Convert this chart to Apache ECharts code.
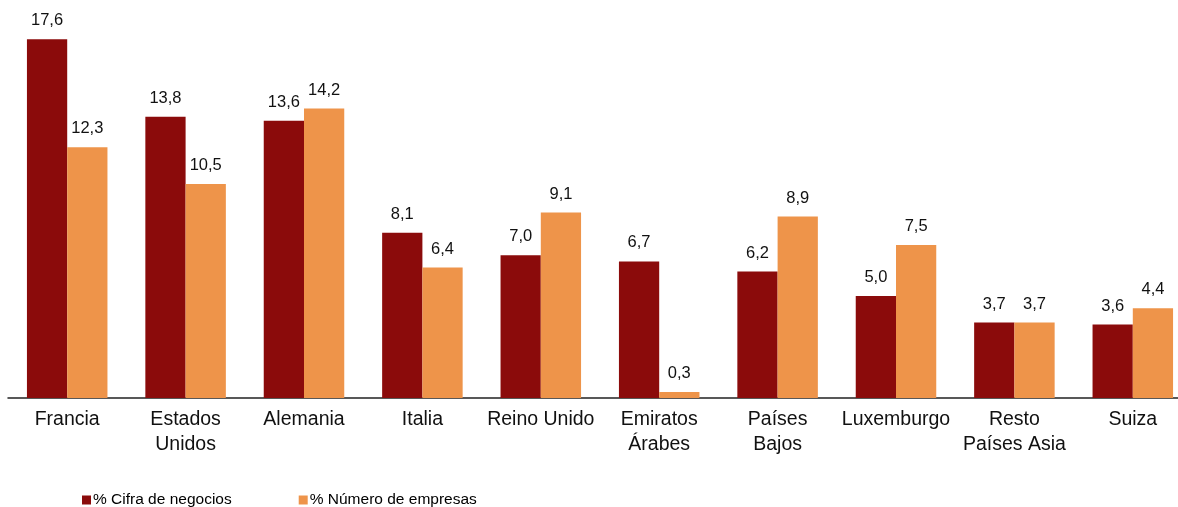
<!DOCTYPE html>
<html>
<head>
<meta charset="utf-8">
<script src="https://cdn.jsdelivr.net/npm/echarts@6/dist/echarts.min.js"></script>
<style>
  html, body { margin: 0; padding: 0; background: #fff; overflow: hidden; }
  #chart { width: 1192px; height: 507px; }
</style>
</head>
<body>
<div id="chart"></div>
<script>
// países (etiquetas del eje x)
var categories = ['Francia', 'Estados\nUnidos', 'Alemania', 'Italia', 'Reino Unido',
  'Emiratos\nÁrabes', 'Países\nBajos', 'Luxemburgo', 'Resto\nPaíses Asia', 'Suiza'];
// % cifra de negocios
var cifraNegocios = [17.6, 13.8, 13.6, 8.1, 7.0, 6.7, 6.2, 5.0, 3.7, 3.6];
// % número de empresas
var numEmpresas = [12.3, 10.5, 14.2, 6.4, 9.1, 0.3, 8.9, 7.5, 3.7, 4.4];

var seriesNames = ['% Cifra de negocios', '% Número de empresas'];
var colors = ['#8b0b0b', '#ee944a'];

var fmt = function (p) {
  return p.value.toFixed(1).replace('.', ',');
};

var chart = echarts.init(document.getElementById('chart'));
var option = {
  animation: false,
  color: colors,
  textStyle: { fontFamily: 'Liberation Sans, Arial, sans-serif' },
  grid: {
    left: 8,
    right: 0,
    top: 31,
    bottom: 109,
    containLabel: false
  },
  legend: {
    data: seriesNames,
    left: 77,
    top: 487,
    itemWidth: 9,
    itemHeight: 9,
    itemGap: 67,
    icon: 'rect',
    textStyle: { fontSize: 15.5, color: '#000', padding: [0, 0, 0, -3] }
  },
  xAxis: {
    type: 'category',
    data: categories,
    axisLine: { lineStyle: { color: '#222', width: 1.5 } },
    axisTick: { show: false },
    axisLabel: {
      interval: 0,
      fontSize: 19.5,
      color: '#111',
      lineHeight: 25,
      margin: 9
    }
  },
  yAxis: {
    type: 'value',
    min: 0,
    max: 18,
    show: false,
    splitLine: { show: false }
  },
  series: [
    {
      name: seriesNames[0],
      type: 'bar',
      data: cifraNegocios,
      barGap: '0%',
      barCategoryGap: '32%',
      label: { show: true, position: 'top', distance: 10, fontSize: 16.5, color: '#111', formatter: fmt }
    },
    {
      name: seriesNames[1],
      type: 'bar',
      data: numEmpresas,
      label: { show: true, position: 'top', distance: 10, fontSize: 16.5, color: '#111', formatter: fmt }
    }
  ]
};
chart.setOption(option);
window.addEventListener('resize', function () { chart.resize(); });
</script>
</body>
</html>
